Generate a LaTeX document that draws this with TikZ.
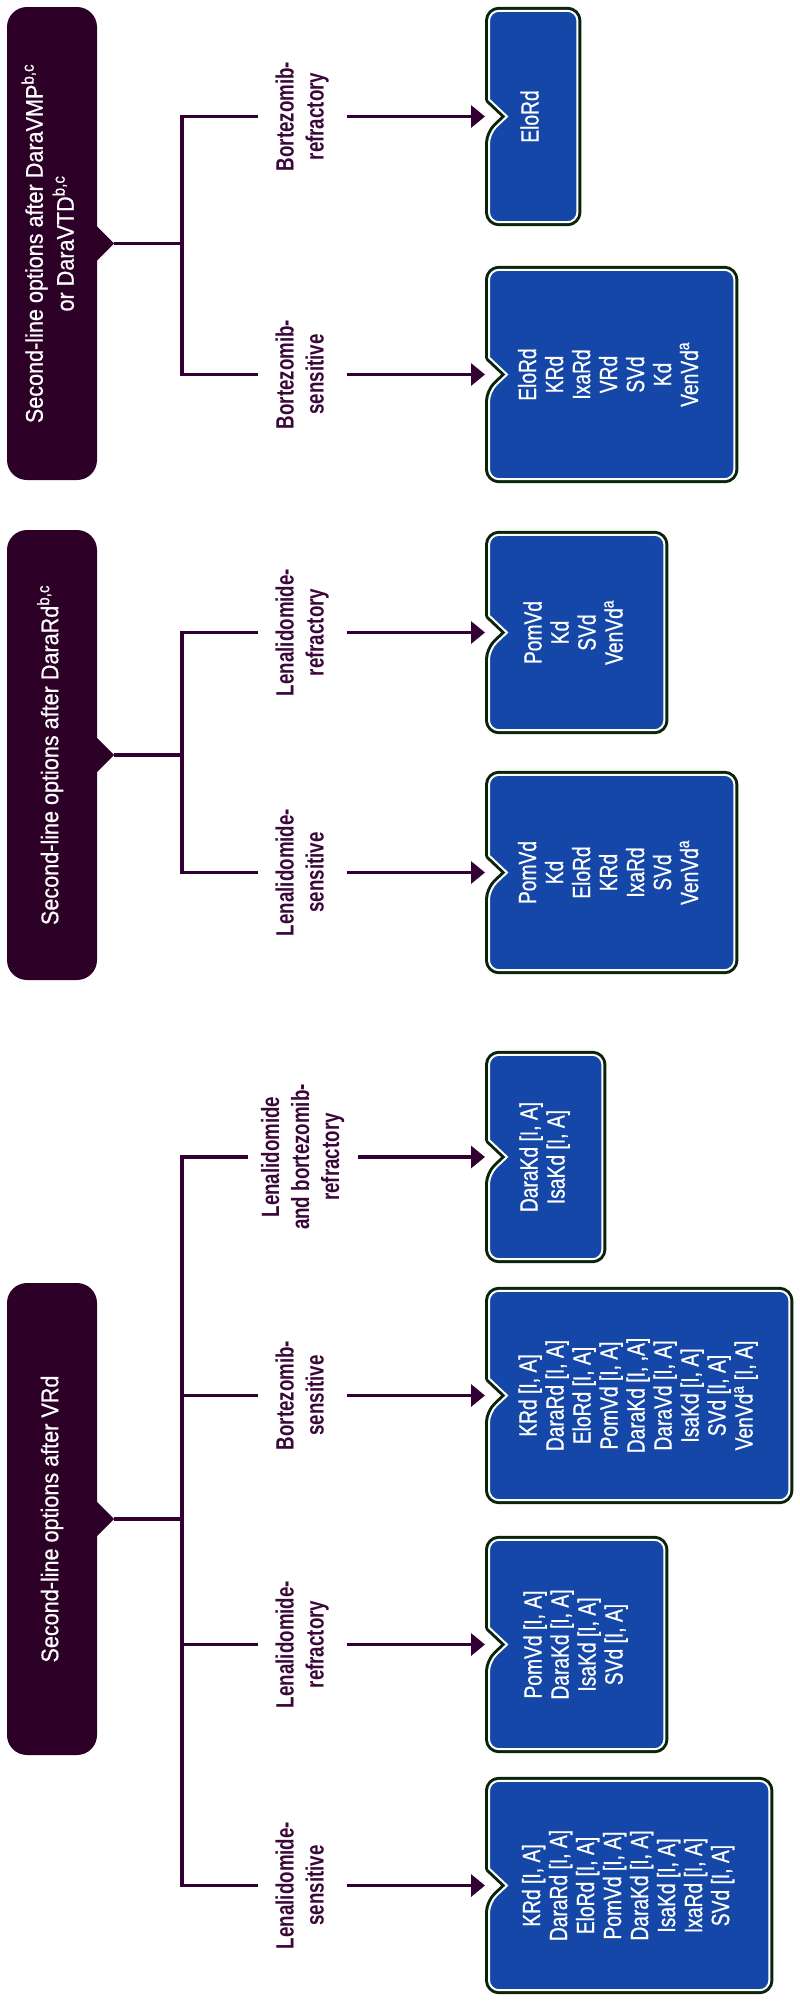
\documentclass[tikz,border=0pt]{standalone}
\usepackage{fontspec}
\setmainfont{Liberation Sans}
\newfontfamily\hdrfont[FakeStretch=0.9, FakeBold=0.6]{Liberation Sans}
\newfontfamily\lblfont[FakeStretch=0.75]{Liberation Sans}
\newfontfamily\boxfont[FakeStretch=0.77, FakeBold=0.7]{Liberation Sans}
\usepackage{graphicx}
\usetikzlibrary{arrows.meta, calc, backgrounds}

\definecolor{hdrpurple}{HTML}{2C0027}
\definecolor{linepurple}{HTML}{330033}
\definecolor{lblpurple}{HTML}{3A0838}
\definecolor{boxblue}{HTML}{1447A7}
\definecolor{ringgreen}{HTML}{0A240C}

% text set upright in the page
\newcommand{\rotlines}[1]{\rotatebox{90}{\begin{tabular}{@{}c@{}}#1\end{tabular}}}

% notched option box drawn behind its node
\newcommand{\notchbox}[1]{%
  \begin{pgfonlayer}{background}
    \foreach \sty in {ring,boxfill}
      \draw[\sty] ($(#1.west)+(0,-17)$) [rounded corners=10pt] -- (#1.north west) -- (#1.north east)
        -- (#1.south east) -- (#1.south west) -- ($(#1.west)+(0,17)$) [sharp corners]
        -- ($(#1.west)+(18,0)$) -- cycle;
  \end{pgfonlayer}}

\begin{document}
\begin{tikzpicture}[x=1pt, y=-1pt,
    hdr/.style={fill=hdrpurple, rounded corners=20pt, inner sep=0pt, text=white,
      minimum width=90pt, font=\hdrfont\fontsize{24}{31}\selectfont},
    lbl/.style={inner sep=0pt, minimum width=89pt, text=lblpurple,
      font=\lblfont\bfseries\fontsize{25}{30}\selectfont},
    optbox/.style={anchor=west, inner sep=0pt, text=white,
      font=\boxfont\fontsize{25}{27}\selectfont},
    conn/.style={draw=linepurple, line width=3.3pt},
    arr/.style={conn, -{Triangle[length=14pt, width=22pt]}, shorten >=4pt},
    ring/.style={draw=ringgreen, line width=8pt, line join=round},
    boxfill/.style={fill=boxblue, draw=white, line width=2pt}]
    \useasboundingbox (0,0) rectangle (800,2003);
    \begin{pgfonlayer}{background}
        \fill[white] (0,0) rectangle (800,2003);
    \end{pgfonlayer}
    \coordinate (bus) at (182,0);

    % after DaraVMP / DaraVTD
    \node[hdr, minimum height=473] (h1) at (52,243.5)
        {\rotlines{Second-line options after DaraVMP\textsuperscript{b,c}\\or DaraVTD\textsuperscript{b,c}}};
    \node[lbl] (la1) at (302.5,116.5) {\rotlines{Bortezomib-\\refractory}};
    \node[lbl] (la2) at (302.5,374.5) {\rotlines{Bortezomib-\\sensitive}};
    \node[optbox, minimum width=88, minimum height=211] (a1) at (489,116.5) {\rotlines{EloRd}};
    \node[optbox, minimum width=245, minimum height=209] (a2) at (489,374.5)
        {\rotlines{EloRd\\KRd\\IxaRd\\VRd\\SVd\\Kd\\VenVd\textsuperscript{a}}};

    % after DaraRd
    \node[hdr, minimum height=450] (h2) at (52,755)
        {\rotlines{Second-line options after DaraRd\textsuperscript{b,c}}};
    \node[lbl] (lb1) at (302.5,632.5) {\rotlines{Lenalidomide-\\refractory}};
    \node[lbl] (lb2) at (302.5,872.5) {\rotlines{Lenalidomide-\\sensitive}};
    \node[optbox, minimum width=175, minimum height=195] (b1) at (489,632.5)
        {\rotlines{PomVd\\Kd\\SVd\\VenVd\textsuperscript{a}}};
    \node[optbox, minimum width=245, minimum height=195] (b2) at (489,872.5)
        {\rotlines{PomVd\\Kd\\EloRd\\KRd\\IxaRd\\SVd\\VenVd\textsuperscript{a}}};

    % after VRd
    \node[hdr, minimum height=472] (h3) at (52,1519) {\rotlines{Second-line options after VRd}};
    \node[lbl, minimum width=110] (lc1) at (303,1157) {\rotlines{Lenalidomide\\and bortezomib-\\refractory}};
    \node[lbl] (lc2) at (302.5,1395.5) {\rotlines{Bortezomib-\\sensitive}};
    \node[lbl] (lc3) at (302.5,1644.5) {\rotlines{Lenalidomide-\\refractory}};
    \node[lbl] (lc4) at (302.5,1885.5) {\rotlines{Lenalidomide-\\sensitive}};
    \node[optbox, minimum width=113, minimum height=204] (c1) at (489,1157)
        {\rotlines{DaraKd [I, A]\\IsaKd [I, A]}};
    \node[optbox, minimum width=300, minimum height=209] (c2) at (489,1395.5)
        {\rotlines{KRd [I, A]\\DaraRd [I, A]\\EloRd [I, A]\\PomVd [I, A]\\DaraKd [I, ,A]\\DaraVd [I, A]\\IsaKd [I, A]\\SVd [I, A]\\VenVd\textsuperscript{a} [I, A]}};
    \node[optbox, minimum width=175, minimum height=209] (c3) at (489,1644.5)
        {\rotlines{PomVd [I, A]\\DaraKd [I, A]\\IsaKd [I, A]\\SVd [I, A]}};
    \node[optbox, minimum width=280, minimum height=209] (c4) at (489,1885.5)
        {\rotlines{KRd [I, A]\\DaraRd [I, A]\\EloRd [I, A]\\PomVd [I, A]\\DaraKd [I, A]\\IsaKd [I, A]\\IxaRd [I, A]\\SVd [I, A]}};

    \foreach \b in {a1,a2,b1,b2,c1,c2,c3,c4}
        \notchbox{\b};

    \foreach \h in {h1,h2,h3}{
        \fill[hdrpurple] ($(\h.east)+(-2,-19)$) -- ($(\h.east)+(17,0)$) -- ($(\h.east)+(-2,19)$) -- cycle;
        \coordinate (\h tip) at ($(\h.east)+(17,0)$);
    }

    % tree lines
    \draw[conn] (h1tip) -- (h1tip -| bus);
    \draw[conn] (la1.west) -- (la1.west -| bus) -- (la2.west -| bus) -- (la2.west);
    \draw[arr] (la1.east) -- (a1.west);
    \draw[arr] (la2.east) -- (a2.west);

    \draw[conn] (h2tip) -- (h2tip -| bus);
    \draw[conn] (lb1.west) -- (lb1.west -| bus) -- (lb2.west -| bus) -- (lb2.west);
    \draw[arr] (lb1.east) -- (b1.west);
    \draw[arr] (lb2.east) -- (b2.west);

    \draw[conn] (h3tip) -- (h3tip -| bus);
    \draw[conn] (lc1.west) -- (lc1.west -| bus) -- (lc4.west -| bus) -- (lc4.west);
    \draw[conn] (lc2.west -| bus) -- (lc2.west);
    \draw[conn] (lc3.west -| bus) -- (lc3.west);
    \foreach \l/\b in {lc1/c1,lc2/c2,lc3/c3,lc4/c4}
        \draw[arr] (\l.east) -- (\b.west);
\end{tikzpicture}
\end{document}
